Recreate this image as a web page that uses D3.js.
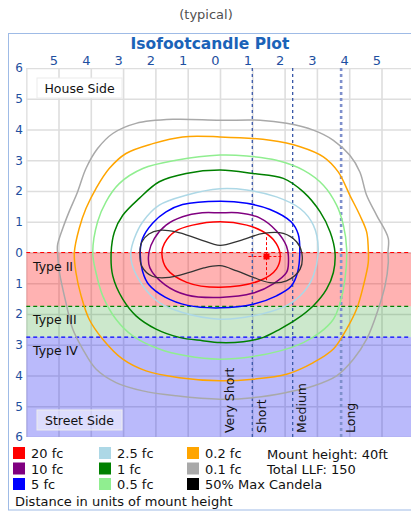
<!DOCTYPE html>
<html><head><meta charset="utf-8">
<script src="https://cdn.jsdelivr.net/npm/d3@7"></script>
<style>
html,body{margin:0;padding:0;background:#fff;}
svg{display:block;font-family:"DejaVu Sans",Verdana,sans-serif;}
</style></head>
<body><svg id="c" width="411" height="512"></svg>
<script>
// ---------- data (units of mount height; y<0 = house side, y>0 = street side) ----------
const axisTicks = [-5,-4,-3,-2,-1,0,1,2,3,4,5];
const yTicks = [-6,-5,-4,-3,-2,-1,0,1,2,3,4,5,6];
const bandNames = ["Type II","Type III","Type IV"];
const bandStarts = [0, 1.75, 2.75];
const bandEnds = [1.75, 2.75, 6];
const distNames = ["Very Short","Short","Medium","Long"];
const distStarts = [0, 1, 2.25, 3.75];
const distLines = [1, 2.25, 3.75];
const maxCandela = [1.44, 0.13];

const c01 = [[0,-4.3],[1.24,-4.3],[2.06,-4.2],[2.89,-3.98],[3.51,-3.65],[4.02,-3.16],[4.33,-2.62],[4.54,-1.86],[4.85,-1.21],[5.21,-0.46],[5.2,0],[5.21,0.33],[5.11,1.08],[4.9,1.84],[4.54,2.82],[4.13,3.47],[3.61,4.01],[2.89,4.34],[2.06,4.55],[1.03,4.72],[0,4.77],[-1.36,4.66],[-2.39,4.5],[-3.22,4.23],[-3.84,3.79],[-4.25,3.14],[-4.56,2.49],[-4.77,1.63],[-4.97,0.65],[-5.03,0],[-5.03,-0.24],[-4.87,-0.78],[-4.67,-1.33],[-4.41,-1.97],[-4.15,-2.73],[-3.79,-3.38],[-3.32,-3.87],[-2.6,-4.2],[-1.46,-4.33]];
const c02 = [[0,-3.76],[1.55,-3.65],[2.48,-3.44],[3.2,-3.11],[3.66,-2.62],[4.02,-1.86],[4.33,-1.21],[4.54,-0.67],[4.59,-0.13],[4.59,0.33],[4.44,1.08],[4.23,1.84],[3.92,2.49],[3.51,3.14],[2.89,3.58],[2.06,3.96],[1.03,4.12],[0,4.17],[-1.26,4.07],[-2.29,3.85],[-3.01,3.47],[-3.63,2.82],[-4.05,2.17],[-4.3,1.41],[-4.46,0.65],[-4.51,0],[-4.36,-0.78],[-4.15,-1.43],[-3.84,-2.08],[-3.43,-2.73],[-2.91,-3.22],[-2.08,-3.54],[-1.16,-3.76]];
const c05 = [[0,-3.17],[0.83,-3.14],[1.75,-3.0],[2.58,-2.68],[3.2,-2.19],[3.61,-1.54],[3.82,-0.89],[3.92,-0.13],[3.87,0.87],[3.72,1.63],[3.51,2.17],[3.1,2.6],[2.58,2.93],[1.86,3.2],[1.03,3.38],[0,3.47],[-1.05,3.36],[-1.88,3.14],[-2.7,2.71],[-3.22,2.17],[-3.63,1.41],[-3.84,0.65],[-3.94,0],[-3.79,-1.0],[-3.53,-1.65],[-3.12,-2.24],[-2.39,-2.73],[-1.36,-3.0]];
const c1 = [[0,-2.68],[1.03,-2.57],[1.96,-2.41],[2.58,-1.97],[3.1,-1.32],[3.41,-0.67],[3.56,0],[3.51,0.65],[3.3,1.19],[2.89,1.73],[2.37,2.17],[1.86,2.49],[1.34,2.76],[0.72,2.9],[0,2.93],[-0.54,2.87],[-1.26,2.76],[-1.98,2.49],[-2.6,2.06],[-3.01,1.52],[-3.32,0.76],[-3.37,0],[-3.27,-0.67],[-3.01,-1.21],[-2.5,-1.76],[-1.88,-2.3],[-1.05,-2.57]];
const c25 = [[0,-2.07],[0.83,-2.03],[1.75,-1.81],[2.48,-1.43],[2.89,-0.89],[3.04,-0.13],[2.89,0.76],[2.58,1.3],[2.06,1.73],[1.03,2.06],[0,2.17],[-1.16,1.95],[-1.88,1.63],[-2.39,1.08],[-2.72,0.4],[-2.76,0],[-2.65,-0.46],[-2.39,-1.0],[-1.88,-1.54],[-1.05,-1.86]];
const c5 = [[0,-1.67],[0.83,-1.6],[1.55,-1.4],[2.2,-1.0],[2.42,-0.6],[2.47,0],[2.4,0.65],[2.2,1.1],[1.75,1.41],[1.03,1.68],[0,1.8],[-1.0,1.72],[-1.7,1.45],[-2.2,1.05],[-2.4,0.6],[-2.47,0],[-2.4,-0.45],[-2.08,-0.96],[-1.67,-1.32],[-1.16,-1.56]];
const c10 = [[0,-1.29],[0.55,-1.29],[1.24,-1.12],[1.75,-0.7],[2.06,-0.2],[2.12,0.3],[2.06,0.65],[1.65,1.02],[1.03,1.32],[0,1.46],[-1.03,1.38],[-1.7,1.05],[-2.17,0.5],[-2.2,0],[-2.03,-0.46],[-1.67,-0.89],[-1.16,-1.16],[-0.55,-1.29]];
const c20 = [[0,-1.0],[0.83,-0.89],[1.3,-0.7],[1.65,-0.42],[1.86,0.04],[1.75,0.53],[1.24,0.91],[0,1.13],[-1.03,0.97],[-1.65,0.53],[-1.8,0],[-1.72,-0.3],[-1.4,-0.68],[-0.85,-0.89]];
const cMax = [[-2.48,0],[-2.42,-0.34],[-2.2,-0.6],[-1.88,-0.72],[-1.36,-0.67],[-0.64,-0.43],[0,-0.23],[0.62,-0.39],[1.34,-0.62],[1.96,-0.62],[2.37,-0.35],[2.53,0],[2.48,0.54],[2.06,0.92],[1.55,0.98],[1.03,0.81],[0.52,0.6],[0,0.43],[-0.5,0.5],[-0.95,0.65],[-1.57,0.81],[-2.08,0.78],[-2.42,0.45]];

const legendLabels = ["20 fc","10 fc","5 fc","2.5 fc","1 fc","0.5 fc","0.2 fc","0.1 fc","50% Max Candela"];
const legendColors = ["#ff0000","#800080","#0000ff","#add8e6","#008000","#90ee90","#ffa500","#a9a9a9","#000000"];
const contours = [c20,c10,c5,c25,c1,c05,c02,c01,cMax];
const infoLines = ["Mount height: 40ft","Total LLF: 150"];

// ---------- drawing ----------
const svg = d3.select("#c");
const x = d3.scaleLinear().domain([-6,6]).range([26.2,413.8]);
const y = d3.scaleLinear().domain([-6,6]).range([68,437]);
const W = 411;

svg.append("text").attr("x",206).attr("y",19).attr("text-anchor","middle")
  .attr("font-size",13).attr("fill","#505050").text("(typical)");
svg.append("rect").attr("x",8.5).attr("y",33.5).attr("width",420).attr("height",476.5)
  .attr("fill","#fff").attr("stroke","#9fbbe6").attr("stroke-width",1);
svg.append("text").attr("x",210).attr("y",49).attr("text-anchor","middle")
  .attr("font-size",15.5).attr("font-weight","bold").attr("fill","#1b63b8").text("Isofootcandle Plot");

const plot = svg.append("g");
svg.append("clipPath").attr("id","pc").append("rect")
  .attr("x",x(-6)).attr("y",y(-6)).attr("width",x(6)-x(-6)).attr("height",y(6)-y(-6));
plot.attr("clip-path","url(#pc)");

// grid
const gx = plot.append("g").attr("transform",`translate(0,${y(-6)})`)
  .call(d3.axisTop(x).tickValues(d3.range(-6,7)).tickSize(-(y(6)-y(-6))).tickFormat(""));
const gy = plot.append("g").attr("transform",`translate(${x(-6)},0)`)
  .call(d3.axisLeft(y).tickValues(d3.range(-6,7)).tickSize(-(x(6)-x(-6))).tickFormat(""));
[gx,gy].forEach(g=>{g.select(".domain").remove();
  g.selectAll("line").attr("stroke","#dedede").attr("stroke-width",1.6);});

// bands
const bandFill = ["rgba(255,0,0,0.30)","rgba(0,140,0,0.20)","rgba(0,0,240,0.27)"];
const bandLine = ["#ff0000","#008000","#0000ff"];
plot.selectAll("rect.band").data(bandStarts).join("rect").attr("class","band")
  .attr("x",x(-6)).attr("width",x(6)-x(-6))
  .attr("y",d=>y(d)).attr("height",(d,i)=>y(bandEnds[i])-y(d))
  .attr("fill",(d,i)=>bandFill[i]);
plot.selectAll("line.bl").data(bandStarts).join("line").attr("class","bl")
  .attr("x1",x(-6)).attr("x2",x(6)).attr("y1",d=>y(d)).attr("y2",d=>y(d))
  .attr("stroke",(d,i)=>bandLine[i]).attr("stroke-width",1.2).attr("stroke-dasharray","4,3");

// distance lines
plot.selectAll("line.dl").data(distLines).join("line").attr("class","dl")
  .attr("x1",d=>x(d)).attr("x2",d=>x(d)).attr("y1",y(-6)).attr("y2",y(6))
  .attr("stroke",(d,i)=>i==2?"#7f90cc":"#3a58a8")
  .attr("stroke-width",(d,i)=>i==2?2.6:1.3).attr("stroke-dasharray","3,3");

// contours
const line = d3.line().x(d=>x(d[0])).y(d=>y(d[1])).curve(d3.curveCatmullRomClosed.alpha(0.5));
const order = [7,6,5,4,3,2,1,0,8];
plot.selectAll("path.ct").data(order).join("path").attr("class","ct")
  .attr("d",i=>line(contours[i])).attr("fill","none")
  .attr("stroke",i=>i==8?"#333":legendColors[i])
  .attr("stroke-width",i=>i==8?1.3:1.5);

// max candela crosshair
plot.append("line").attr("x1",x(maxCandela[0])).attr("x2",x(maxCandela[0]))
  .attr("y1",y(-0.5)).attr("y2",y(0.92)).attr("stroke","#ff0000").attr("stroke-dasharray","3,2");
plot.append("line").attr("x1",x(0.88)).attr("x2",x(1.96))
  .attr("y1",y(maxCandela[1])).attr("y2",y(maxCandela[1])).attr("stroke","#ff0000").attr("stroke-dasharray","3,2");
plot.append("rect").attr("x",x(maxCandela[0])-3).attr("y",y(maxCandela[1])-3)
  .attr("width",6).attr("height",6).attr("fill","#ff0000");

// band labels
plot.selectAll("text.bt").data(bandNames).join("text").attr("class","bt")
  .attr("x",33).attr("y",(d,i)=>y(bandStarts[i])+18).attr("font-size",12.5).attr("fill","#111").text(d=>d);

// distance labels (rotated)
plot.selectAll("text.dt").data(distNames).join("text").attr("class","dt")
  .attr("transform",(d,i)=>`translate(${x(distStarts[i])+9},${y(6)-4}) rotate(-90)`)
  .attr("dominant-baseline","central").attr("font-size",12.5).attr("fill","#111").text(d=>d);

// side boxes
[["House Side",78],["Street Side",410]].forEach(([t,yy],k)=>{
  plot.append("rect").attr("x",37).attr("y",yy).attr("width",85).attr("height",20)
    .attr("fill",k==0?"#fff":"rgba(255,255,255,0.5)").attr("stroke","#ececec");
  plot.append("text").attr("x",79.5).attr("y",yy+15).attr("text-anchor","middle")
    .attr("font-size",12.5).attr("fill","#111").text(t);
});

// axis labels
const ax = svg.append("g").attr("transform",`translate(-5,${y(-6)-1})`)
  .call(d3.axisTop(x).tickValues(axisTicks).tickSize(0).tickPadding(2).tickFormat(d=>Math.abs(d)));
ax.select(".domain").remove();
ax.selectAll("text").attr("font-size",13).attr("fill","#1e4fa0").attr("font-family","DejaVu Sans");
const ay = svg.append("g").attr("transform",`translate(23,0)`)
  .call(d3.axisLeft(y).tickValues(yTicks).tickSize(0).tickPadding(0).tickFormat(d=>Math.abs(d)));
ay.select(".domain").remove();
ay.selectAll("text").attr("font-size",12).attr("fill","#1e4fa0").attr("font-family","DejaVu Sans");

// legend
const lg = svg.append("g");
legendLabels.forEach((t,i)=>{
  const col = Math.floor(i/3), row = i%3;
  const cx = [13,99,187][col], cy = 447 + row*15.5;
  lg.append("rect").attr("x",cx).attr("y",cy).attr("width",12).attr("height",12).attr("fill",legendColors[i]);
  lg.append("text").attr("x",cx+18).attr("y",cy+11).attr("font-size",13).attr("fill","#111").text(t);
});
infoLines.forEach((t,i)=>{
  lg.append("text").attr("x",267).attr("y",459+i*15).attr("font-size",13).attr("fill","#111").text(t);
});
lg.append("text").attr("x",15).attr("y",506).attr("font-size",13).attr("fill","#111").text("Distance in units of mount height");
</script></body></html>
